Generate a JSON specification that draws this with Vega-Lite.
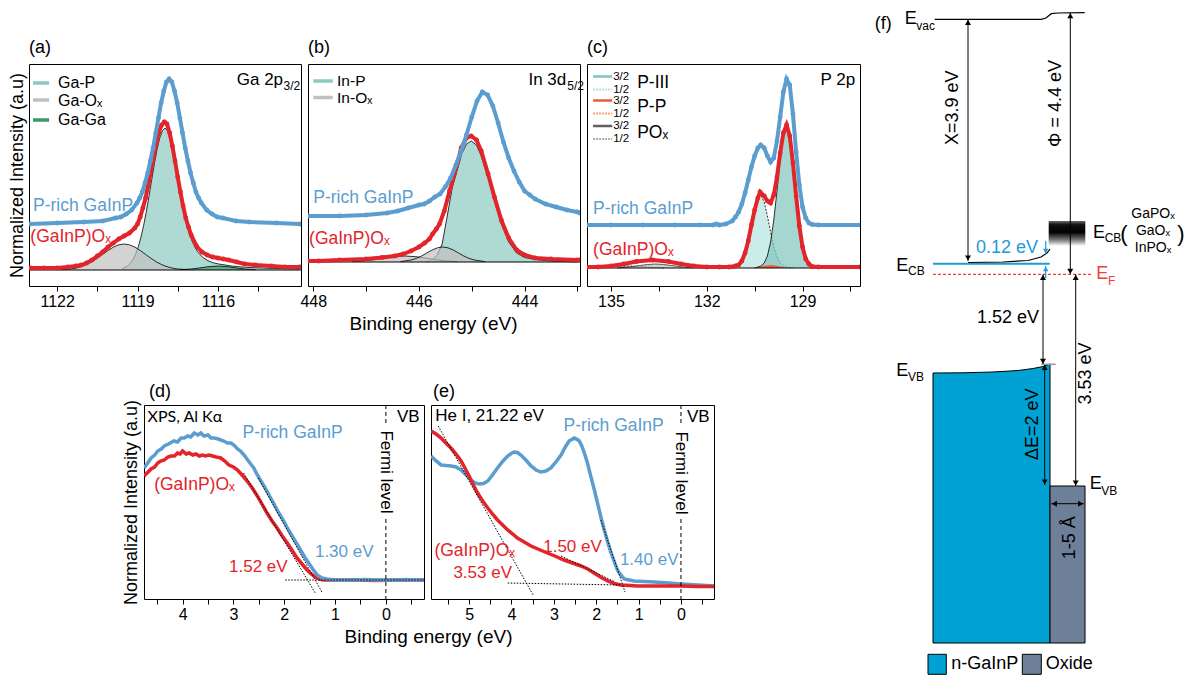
{
"$schema":"https://vega.github.io/schema/vega-lite/v6.json",
"padding":0,
"config":{"font":"Liberation Sans","view":{"stroke":null},
"axis":{"labelFont":"Liberation Sans","titleFont":"Liberation Sans","labelColor":"#000","titleColor":"#000","tickColor":"#000","grid":false,"labelFontSize":16,"titleFontSize":19,"titleFontWeight":"normal","tickSize":5,"labelPadding":2,"labelFlush":false,"labelOverlap":false,"domain":false,"minExtent":0},
"title":{"font":"Liberation Sans","fontSize":18,"fontWeight":"normal","anchor":"start","frame":"group","offset":7,"color":"#000"},
"text":{"font":"Liberation Sans","fontSize":17}},
"bounds":"full","spacing":0,
"hconcat":[
{"bounds":"full","spacing":0,"vconcat":[
{"bounds":"flush","spacing":7,"hconcat":[
{"width":272,"height":222,"title":{"text":"(a)"},"view":{"stroke":"#000"},
"encoding":{"x":{"field":"be","type":"quantitative","scale":{"domain":[1112.9,1123.05],"reverse":true,"nice":false,"zero":false},"axis":{"values":[1122,1120.5,1119,1117.5,1116,1114.5],"format":"d","labelExpr":"datum.value % 3 === 0 ? datum.label : ''","title":null}},
"y":{"field":"y","type":"quantitative","scale":{"domain":[0,2.22],"nice":false,"zero":false},"axis":{"title":"Normalized Intensity (a.u)","labels":false,"ticks":false,"titlePadding":3,"titleFontSize":18}}},
"layer":[
{"data":{"values":[{"be":1124.1,"be2":1112.9,"y":0,"y2":-0.6}]},"mark":{"type":"rect","color":"#fff","opacity":0},"encoding":{"x2":{"field":"be2"},"y2":{"field":"y2"}}},
{"data":{"values":[{"be":1119.57,"y":0.174},{"be":1119.37,"y":0.201},{"be":1119.27,"y":0.227},{"be":1119.17,"y":0.266},{"be":1119.07,"y":0.32},{"be":1118.97,"y":0.394},{"be":1118.87,"y":0.49},{"be":1118.77,"y":0.608},{"be":1118.67,"y":0.747},{"be":1118.57,"y":0.902},{"be":1118.47,"y":1.065},{"be":1118.37,"y":1.224},{"be":1118.27,"y":1.367},{"be":1118.17,"y":1.481},{"be":1118.07,"y":1.554},{"be":1117.97,"y":1.58},{"be":1117.87,"y":1.547},{"be":1117.77,"y":1.456},{"be":1117.67,"y":1.325},{"be":1117.57,"y":1.173},{"be":1117.47,"y":1.018},{"be":1117.37,"y":0.87},{"be":1117.27,"y":0.737},{"be":1117.17,"y":0.623},{"be":1117.07,"y":0.528},{"be":1116.97,"y":0.452},{"be":1116.77,"y":0.346},{"be":1116.57,"y":0.287},{"be":1116.37,"y":0.253},{"be":1116.17,"y":0.232},{"be":1115.97,"y":0.22},{"be":1115.47,"y":0.199},{"be":1114.97,"y":0.187},{"be":1113.97,"y":0.176},{"be":1112.95,"y":0.17}]},"mark":{"type":"area","color":"#8ccac1","line":{"color":"#000","strokeWidth":0.8},"clip":true},"encoding":{"y2":{"datum":0.16}}},
{"data":{"values":[{"be":1121.9,"y":0.163},{"be":1121.5,"y":0.17},{"be":1121.3,"y":0.179},{"be":1121.1,"y":0.193},{"be":1120.9,"y":0.214},{"be":1120.7,"y":0.242},{"be":1120.5,"y":0.277},{"be":1120.3,"y":0.316},{"be":1120.1,"y":0.355},{"be":1119.9,"y":0.389},{"be":1119.7,"y":0.412},{"be":1119.5,"y":0.42},{"be":1119.3,"y":0.412},{"be":1119.1,"y":0.389},{"be":1118.9,"y":0.355},{"be":1118.7,"y":0.316},{"be":1118.5,"y":0.277},{"be":1118.3,"y":0.242},{"be":1118.1,"y":0.214},{"be":1117.9,"y":0.193},{"be":1117.7,"y":0.179},{"be":1117.5,"y":0.17},{"be":1117.1,"y":0.163}]},"mark":{"type":"area","color":"#c0c0c0","line":{"color":"#000","strokeWidth":0.8},"clip":true},"encoding":{"y2":{"datum":0.16}}},
{"data":{"values":[{"be":1117.4,"y":0.163},{"be":1117.0,"y":0.17},{"be":1116.7,"y":0.18},{"be":1116.4,"y":0.192},{"be":1116.0,"y":0.2},{"be":1115.6,"y":0.192},{"be":1115.3,"y":0.18},{"be":1115.0,"y":0.17},{"be":1114.6,"y":0.163}]},"mark":{"type":"area","color":"#3a9a6b","line":{"color":"#000","strokeWidth":0.8},"clip":true},"encoding":{"y2":{"datum":0.16}}},
{"data":{"values":[{"be":1112.9,"y":0.16},{"be":1123.05,"y":0.16}]},"mark":{"type":"line","color":"#000","strokeWidth":1.2}},
{"data":{"name":"ared","values":[{"be":1123.0,"y":0.18},{"be":1122.5,"y":0.18},{"be":1122.0,"y":0.18},{"be":1121.6,"y":0.19},{"be":1121.3,"y":0.2},{"be":1121.1,"y":0.21},{"be":1120.9,"y":0.23},{"be":1120.7,"y":0.26},{"be":1120.5,"y":0.3},{"be":1120.3,"y":0.34},{"be":1120.1,"y":0.39},{"be":1119.9,"y":0.43},{"be":1119.7,"y":0.47},{"be":1119.5,"y":0.5},{"be":1119.3,"y":0.53},{"be":1119.1,"y":0.58},{"be":1119.0,"y":0.62},{"be":1118.9,"y":0.69},{"be":1118.8,"y":0.78},{"be":1118.7,"y":0.88},{"be":1118.6,"y":1.01},{"be":1118.5,"y":1.15},{"be":1118.4,"y":1.3},{"be":1118.3,"y":1.43},{"be":1118.2,"y":1.54},{"be":1118.1,"y":1.61},{"be":1118.0,"y":1.64},{"be":1117.9,"y":1.62},{"be":1117.8,"y":1.53},{"be":1117.7,"y":1.4},{"be":1117.6,"y":1.25},{"be":1117.5,"y":1.09},{"be":1117.4,"y":0.94},{"be":1117.3,"y":0.8},{"be":1117.2,"y":0.68},{"be":1117.1,"y":0.59},{"be":1117.0,"y":0.51},{"be":1116.8,"y":0.4},{"be":1116.6,"y":0.34},{"be":1116.4,"y":0.31},{"be":1116.2,"y":0.29},{"be":1116.0,"y":0.28},{"be":1115.8,"y":0.27},{"be":1115.6,"y":0.26},{"be":1115.3,"y":0.24},{"be":1115.0,"y":0.22},{"be":1114.6,"y":0.21},{"be":1114.0,"y":0.2},{"be":1113.5,"y":0.19},{"be":1112.95,"y":0.19}]},"mark":{"type":"line","color":"#e3242b","strokeWidth":4,"clip":true}},
{"data":{"name":"ared"},"mark":{"type":"circle","color":"#e3242b","size":24,"opacity":1,"clip":true}},
{"data":{"name":"ablue","values":[{"be":1123.0,"y":0.62},{"be":1122.0,"y":0.63},{"be":1121.0,"y":0.64},{"be":1120.3,"y":0.65},{"be":1119.82,"y":0.68},{"be":1119.62,"y":0.69},{"be":1119.42,"y":0.72},{"be":1119.22,"y":0.76},{"be":1119.02,"y":0.83},{"be":1118.92,"y":0.88},{"be":1118.82,"y":0.94},{"be":1118.72,"y":1.03},{"be":1118.62,"y":1.13},{"be":1118.52,"y":1.25},{"be":1118.42,"y":1.38},{"be":1118.32,"y":1.53},{"be":1118.22,"y":1.68},{"be":1118.12,"y":1.83},{"be":1118.02,"y":1.95},{"be":1117.92,"y":2.04},{"be":1117.82,"y":2.07},{"be":1117.72,"y":2.04},{"be":1117.62,"y":1.95},{"be":1117.52,"y":1.83},{"be":1117.42,"y":1.68},{"be":1117.32,"y":1.53},{"be":1117.22,"y":1.38},{"be":1117.12,"y":1.25},{"be":1117.02,"y":1.13},{"be":1116.92,"y":1.03},{"be":1116.82,"y":0.94},{"be":1116.72,"y":0.88},{"be":1116.62,"y":0.83},{"be":1116.42,"y":0.76},{"be":1116.22,"y":0.72},{"be":1116.02,"y":0.69},{"be":1115.82,"y":0.68},{"be":1115.32,"y":0.65},{"be":1114.82,"y":0.64},{"be":1113.82,"y":0.63},{"be":1112.95,"y":0.62}]},"mark":{"type":"line","color":"#5b9dcf","strokeWidth":4,"clip":true}},
{"data":{"name":"ablue"},"mark":{"type":"circle","color":"#5b9dcf","size":24,"opacity":1,"clip":true}},
{"data":{"values":[{"be":1122.9,"be2":1122.3,"y":2.03}]},"mark":{"type":"rule","color":"#8ccac1","strokeWidth":3.5},"encoding":{"x2":{"field":"be2"}}},
{"data":{"values":[{"be":1122.9,"be2":1122.3,"y":1.86}]},"mark":{"type":"rule","color":"#c0c0c0","strokeWidth":3.5},"encoding":{"x2":{"field":"be2"}}},
{"data":{"values":[{"be":1122.9,"be2":1122.3,"y":1.66}]},"mark":{"type":"rule","color":"#3a9a6b","strokeWidth":3.5},"encoding":{"x2":{"field":"be2"}}},
{"data":{"values":[{"be":1121.97,"y":2.03,"t":"Ga-P"},{"be":1121.97,"y":1.855,"t":"Ga-Oₓ"},{"be":1121.97,"y":1.66,"t":"Ga-Ga"}]},"mark":{"type":"text","align":"left","baseline":"middle","fontSize":16,"color":"#000"},"encoding":{"text":{"field":"t"}}},
{"data":{"values":[{"be":1113.57,"y":2.06,"t":"Ga 2p"}]},"mark":{"type":"text","align":"right","baseline":"middle","fontSize":17,"color":"#000"},"encoding":{"text":{"field":"t"}}},
{"data":{"values":[{"be":1113.55,"y":2.0,"t":"3/2"}]},"mark":{"type":"text","align":"left","baseline":"middle","fontSize":12,"color":"#000"},"encoding":{"text":{"field":"t"}}},
{"data":{"values":[{"be":1122.9,"y":0.8,"t":"P-rich GaInP"}]},"mark":{"type":"text","align":"left","baseline":"middle","fontSize":17.5,"color":"#5b9dcf"},"encoding":{"text":{"field":"t"}}},
{"data":{"values":[{"be":1123.0,"y":0.49,"t":"(GaInP)Oₓ"}]},"mark":{"type":"text","align":"left","baseline":"middle","fontSize":17.5,"color":"#e3242b"},"encoding":{"text":{"field":"t"}}}
]},
{"width":272,"height":222,"title":{"text":"(b)"},"view":{"stroke":"#000"},
"encoding":{"x":{"field":"be","type":"quantitative","scale":{"domain":[442.95,448.1],"reverse":true,"nice":false,"zero":false},"axis":{"values":[448,447,446,445,444,443],"format":"d","labelExpr":"datum.value % 2 === 0 ? datum.label : ''","title":"Binding energy (eV)","titleX":125,"titlePadding":5}},
"y":{"field":"y","type":"quantitative","scale":{"domain":[0,2.22],"nice":false,"zero":false},"axis":null}},
"layer":[
{"data":{"values":[{"be":445.85,"y":0.24},{"be":445.75,"y":0.26},{"be":445.65,"y":0.31},{"be":445.56,"y":0.42},{"be":445.47,"y":0.68},{"be":445.37,"y":0.98},{"be":445.28,"y":1.15},{"be":445.19,"y":1.32},{"be":445.1,"y":1.42},{"be":445.01,"y":1.45},{"be":444.91,"y":1.41},{"be":444.82,"y":1.3},{"be":444.69,"y":1.08},{"be":444.57,"y":0.85},{"be":444.44,"y":0.62},{"be":444.3,"y":0.44},{"be":444.15,"y":0.33},{"be":444.0,"y":0.285},{"be":443.8,"y":0.265},{"be":443.5,"y":0.25},{"be":443.0,"y":0.24}]},"mark":{"type":"area","color":"#8ccac1","line":{"color":"#000","strokeWidth":0.8},"clip":true},"encoding":{"y2":{"datum":0.24}}},
{"data":{"values":[{"be":447.27,"y":0.244},{"be":447.07,"y":0.25},{"be":446.87,"y":0.262},{"be":446.67,"y":0.279},{"be":446.47,"y":0.294},{"be":446.27,"y":0.3},{"be":446.07,"y":0.294},{"be":445.87,"y":0.279},{"be":445.67,"y":0.262},{"be":445.47,"y":0.25},{"be":445.27,"y":0.244}]},"mark":{"type":"area","color":"#c0c0c0","line":{"color":"#000","strokeWidth":0.8},"clip":true},"encoding":{"y2":{"datum":0.24}}},
{"data":{"values":[{"be":446.35,"y":0.244},{"be":446.15,"y":0.26},{"be":446.05,"y":0.276},{"be":445.95,"y":0.3},{"be":445.85,"y":0.33},{"be":445.75,"y":0.36},{"be":445.65,"y":0.382},{"be":445.55,"y":0.39},{"be":445.45,"y":0.382},{"be":445.35,"y":0.36},{"be":445.25,"y":0.33},{"be":445.15,"y":0.3},{"be":445.05,"y":0.276},{"be":444.95,"y":0.26},{"be":444.75,"y":0.244}]},"mark":{"type":"area","color":"#c0c0c0","line":{"color":"#000","strokeWidth":0.8},"clip":true},"encoding":{"y2":{"datum":0.24}}},
{"data":{"values":[{"be":442.95,"y":0.24},{"be":448.1,"y":0.24}]},"mark":{"type":"line","color":"#000","strokeWidth":1.2}},
{"data":{"name":"bred","values":[{"be":448.1,"y":0.25},{"be":447.9,"y":0.25},{"be":447.5,"y":0.26},{"be":447.0,"y":0.27},{"be":446.7,"y":0.285},{"be":446.46,"y":0.3},{"be":446.3,"y":0.32},{"be":446.15,"y":0.35},{"be":446.0,"y":0.39},{"be":445.89,"y":0.43},{"be":445.8,"y":0.47},{"be":445.74,"y":0.52},{"be":445.67,"y":0.57},{"be":445.61,"y":0.62},{"be":445.52,"y":0.75},{"be":445.42,"y":0.95},{"be":445.33,"y":1.12},{"be":445.26,"y":1.25},{"be":445.2,"y":1.38},{"be":445.1,"y":1.48},{"be":445.01,"y":1.5},{"be":444.91,"y":1.46},{"be":444.82,"y":1.35},{"be":444.69,"y":1.12},{"be":444.57,"y":0.89},{"be":444.44,"y":0.66},{"be":444.3,"y":0.48},{"be":444.15,"y":0.36},{"be":444.0,"y":0.31},{"be":443.8,"y":0.28},{"be":443.5,"y":0.27},{"be":443.0,"y":0.26},{"be":442.95,"y":0.26}]},"mark":{"type":"line","color":"#e3242b","strokeWidth":4,"clip":true}},
{"data":{"name":"bred"},"mark":{"type":"circle","color":"#e3242b","size":24,"opacity":1,"clip":true}},
{"data":{"name":"bblue","values":[{"be":448.1,"y":0.7},{"be":447.5,"y":0.7},{"be":447.0,"y":0.71},{"be":446.6,"y":0.73},{"be":446.4,"y":0.75},{"be":446.2,"y":0.78},{"be":446.0,"y":0.81},{"be":445.9,"y":0.82},{"be":445.8,"y":0.85},{"be":445.7,"y":0.89},{"be":445.6,"y":0.92},{"be":445.5,"y":0.99},{"be":445.4,"y":1.08},{"be":445.3,"y":1.21},{"be":445.2,"y":1.35},{"be":445.1,"y":1.51},{"be":445.0,"y":1.69},{"be":444.9,"y":1.85},{"be":444.8,"y":1.94},{"be":444.7,"y":1.91},{"be":444.6,"y":1.8},{"be":444.5,"y":1.63},{"be":444.4,"y":1.44},{"be":444.3,"y":1.28},{"be":444.2,"y":1.15},{"be":444.1,"y":1.04},{"be":444.0,"y":0.95},{"be":443.9,"y":0.91},{"be":443.8,"y":0.87},{"be":443.6,"y":0.82},{"be":443.4,"y":0.79},{"be":443.2,"y":0.76},{"be":443.0,"y":0.74},{"be":442.95,"y":0.73}]},"mark":{"type":"line","color":"#5b9dcf","strokeWidth":4,"clip":true}},
{"data":{"name":"bblue"},"mark":{"type":"circle","color":"#5b9dcf","size":24,"opacity":1,"clip":true}},
{"data":{"values":[{"be":448.0,"be2":447.63,"y":2.05}]},"mark":{"type":"rule","color":"#8ccac1","strokeWidth":3.5},"encoding":{"x2":{"field":"be2"}}},
{"data":{"values":[{"be":448.0,"be2":447.63,"y":1.885}]},"mark":{"type":"rule","color":"#c0c0c0","strokeWidth":3.5},"encoding":{"x2":{"field":"be2"}}},
{"data":{"values":[{"be":447.55,"y":2.05,"t":"In-P"},{"be":447.55,"y":1.885,"t":"In-Oₓ"}]},"mark":{"type":"text","align":"left","baseline":"middle","fontSize":15.5,"color":"#000"},"encoding":{"text":{"field":"t"}}},
{"data":{"values":[{"be":443.21,"y":2.06,"t":"In 3d"}]},"mark":{"type":"text","align":"right","baseline":"middle","fontSize":17,"color":"#000"},"encoding":{"text":{"field":"t"}}},
{"data":{"values":[{"be":443.19,"y":2.0,"t":"5/2"}]},"mark":{"type":"text","align":"left","baseline":"middle","fontSize":12,"color":"#000"},"encoding":{"text":{"field":"t"}}},
{"data":{"values":[{"be":448.0,"y":0.88,"t":"P-rich GaInP"}]},"mark":{"type":"text","align":"left","baseline":"middle","fontSize":17.5,"color":"#5b9dcf"},"encoding":{"text":{"field":"t"}}},
{"data":{"values":[{"be":448.08,"y":0.47,"t":"(GaInP)Oₓ"}]},"mark":{"type":"text","align":"left","baseline":"middle","fontSize":17.5,"color":"#e3242b"},"encoding":{"text":{"field":"t"}}}
]},
{"width":273,"height":222,"title":{"text":"(c)"},"view":{"stroke":"#000"},
"encoding":{"x":{"field":"be","type":"quantitative","scale":{"domain":[127.2,135.75],"reverse":true,"nice":false,"zero":false},"axis":{"values":[135,133.5,132,130.5,129,127.5],"format":"d","labelExpr":"datum.value % 3 === 0 ? datum.label : ''","title":null}},
"y":{"field":"y","type":"quantitative","scale":{"domain":[0,2.22],"nice":false,"zero":false},"axis":null}},
"layer":[
{"data":{"values":[{"be":131.2,"y":0.18},{"be":131.0,"y":0.21},{"be":130.9,"y":0.25},{"be":130.8,"y":0.33},{"be":130.7,"y":0.46},{"be":130.6,"y":0.62},{"be":130.5,"y":0.78},{"be":130.4,"y":0.89},{"be":130.33,"y":0.92},{"be":130.2,"y":0.84},{"be":130.1,"y":0.7},{"be":130.0,"y":0.54},{"be":129.9,"y":0.39},{"be":129.8,"y":0.29},{"be":129.7,"y":0.23},{"be":129.6,"y":0.2},{"be":129.5,"y":0.19},{"be":129.3,"y":0.18}]},"mark":{"type":"area","color":"#b3e6df","line":{"color":"#000","strokeWidth":0.8,"strokeDash":[2,1.5]},"clip":true},"encoding":{"y2":{"datum":0.18}}},
{"data":{"values":[{"be":130.5,"y":0.18},{"be":130.3,"y":0.2},{"be":130.2,"y":0.23},{"be":130.1,"y":0.3},{"be":130.0,"y":0.44},{"be":129.9,"y":0.66},{"be":129.8,"y":0.95},{"be":129.7,"y":1.26},{"be":129.6,"y":1.51},{"be":129.5,"y":1.6},{"be":129.4,"y":1.5},{"be":129.3,"y":1.22},{"be":129.2,"y":0.89},{"be":129.1,"y":0.6},{"be":129.0,"y":0.39},{"be":128.9,"y":0.27},{"be":128.8,"y":0.21},{"be":128.7,"y":0.19},{"be":128.5,"y":0.18}]},"mark":{"type":"area","color":"#7fc4ba","line":{"color":"#000","strokeWidth":0.8},"clip":true},"encoding":{"y2":{"datum":0.18}}},
{"data":{"values":[{"be":130.5,"y":0.18},{"be":130.3,"y":0.195},{"be":130.15,"y":0.206},{"be":130.0,"y":0.21},{"be":129.85,"y":0.206},{"be":129.7,"y":0.195},{"be":129.5,"y":0.18}]},"mark":{"type":"area","color":"#f05a3c","clip":true},"encoding":{"y2":{"datum":0.18}}},
{"data":{"values":[{"be":135.6,"y":0.18},{"be":135.2,"y":0.187},{"be":134.9,"y":0.194},{"be":134.45,"y":0.2},{"be":134.0,"y":0.194},{"be":133.7,"y":0.187},{"be":133.3,"y":0.18}]},"mark":{"type":"area","color":"#d3d3d3","line":{"color":"#000","strokeWidth":0.8,"strokeDash":[2,1.5]},"clip":true},"encoding":{"y2":{"datum":0.18}}},
{"data":{"values":[{"be":134.8,"y":0.18},{"be":134.4,"y":0.192},{"be":134.1,"y":0.205},{"be":133.85,"y":0.215},{"be":133.6,"y":0.22},{"be":133.35,"y":0.215},{"be":133.1,"y":0.205},{"be":132.8,"y":0.192},{"be":132.4,"y":0.18}]},"mark":{"type":"area","color":"#bdbdbd","line":{"color":"#333","strokeWidth":0.8},"clip":true},"encoding":{"y2":{"datum":0.18}}},
{"data":{"values":[{"be":127.2,"y":0.18},{"be":135.75,"y":0.18}]},"mark":{"type":"line","color":"#000","strokeWidth":1.2}},
{"data":{"name":"cred","values":[{"be":135.75,"y":0.19},{"be":135.4,"y":0.19},{"be":135.0,"y":0.2},{"be":134.6,"y":0.22},{"be":134.2,"y":0.245},{"be":133.7,"y":0.26},{"be":133.2,"y":0.245},{"be":132.8,"y":0.22},{"be":132.4,"y":0.2},{"be":132.0,"y":0.19},{"be":131.6,"y":0.19},{"be":131.3,"y":0.19},{"be":131.1,"y":0.2},{"be":131.0,"y":0.21},{"be":130.9,"y":0.25},{"be":130.8,"y":0.33},{"be":130.7,"y":0.45},{"be":130.6,"y":0.61},{"be":130.5,"y":0.76},{"be":130.4,"y":0.88},{"be":130.33,"y":0.94},{"be":130.2,"y":0.9},{"be":130.1,"y":0.85},{"be":130.0,"y":0.83},{"be":129.9,"y":0.91},{"be":129.8,"y":1.09},{"be":129.7,"y":1.33},{"be":129.6,"y":1.53},{"be":129.5,"y":1.61},{"be":129.4,"y":1.5},{"be":129.3,"y":1.23},{"be":129.2,"y":0.9},{"be":129.1,"y":0.6},{"be":129.0,"y":0.39},{"be":128.9,"y":0.27},{"be":128.8,"y":0.22},{"be":128.7,"y":0.195},{"be":128.5,"y":0.19},{"be":127.2,"y":0.19}]},"mark":{"type":"line","color":"#e3242b","strokeWidth":4,"clip":true}},
{"data":{"name":"cred"},"mark":{"type":"circle","color":"#e3242b","size":24,"opacity":1,"clip":true}},
{"data":{"name":"cblue","values":[{"be":135.75,"y":0.61},{"be":135.0,"y":0.61},{"be":134.0,"y":0.61},{"be":133.0,"y":0.61},{"be":132.2,"y":0.61},{"be":131.8,"y":0.61},{"be":131.7,"y":0.62},{"be":131.6,"y":0.61},{"be":131.4,"y":0.62},{"be":131.2,"y":0.65},{"be":131.1,"y":0.69},{"be":131.0,"y":0.74},{"be":130.9,"y":0.82},{"be":130.8,"y":0.93},{"be":130.7,"y":1.06},{"be":130.6,"y":1.19},{"be":130.5,"y":1.3},{"be":130.4,"y":1.38},{"be":130.31,"y":1.41},{"be":130.2,"y":1.38},{"be":130.1,"y":1.3},{"be":130.0,"y":1.24},{"be":129.9,"y":1.28},{"be":129.8,"y":1.45},{"be":129.7,"y":1.69},{"be":129.6,"y":1.94},{"be":129.5,"y":2.07},{"be":129.4,"y":2.01},{"be":129.3,"y":1.72},{"be":129.2,"y":1.34},{"be":129.1,"y":1.01},{"be":129.0,"y":0.79},{"be":128.9,"y":0.68},{"be":128.8,"y":0.63},{"be":128.7,"y":0.615},{"be":128.5,"y":0.61},{"be":127.2,"y":0.61}]},"mark":{"type":"line","color":"#5b9dcf","strokeWidth":4,"clip":true}},
{"data":{"name":"cblue"},"mark":{"type":"circle","color":"#5b9dcf","size":24,"opacity":1,"clip":true}},
{"data":{"values":[{"be":135.56,"be2":134.96,"y":2.095}]},"mark":{"type":"rule","color":"#7fc4ba","strokeWidth":2.5},"encoding":{"x2":{"field":"be2"}}},
{"data":{"values":[{"be":135.56,"be2":134.96,"y":1.965}]},"mark":{"type":"rule","color":"#b3e6df","strokeWidth":2,"strokeDash":[2,1]},"encoding":{"x2":{"field":"be2"}}},
{"data":{"values":[{"be":135.56,"be2":134.96,"y":1.855}]},"mark":{"type":"rule","color":"#f05a3c","strokeWidth":2.5},"encoding":{"x2":{"field":"be2"}}},
{"data":{"values":[{"be":135.56,"be2":134.96,"y":1.725}]},"mark":{"type":"rule","color":"#f7a57a","strokeWidth":2,"strokeDash":[2,1]},"encoding":{"x2":{"field":"be2"}}},
{"data":{"values":[{"be":135.56,"be2":134.96,"y":1.6}]},"mark":{"type":"rule","color":"#606060","strokeWidth":2.5},"encoding":{"x2":{"field":"be2"}}},
{"data":{"values":[{"be":135.56,"be2":134.96,"y":1.47}]},"mark":{"type":"rule","color":"#b0b0b0","strokeWidth":2,"strokeDash":[2,1]},"encoding":{"x2":{"field":"be2"}}},
{"data":{"values":[{"be":134.93,"y":2.095,"t":"3/2"},{"be":134.93,"y":1.965,"t":"1/2"},{"be":134.93,"y":1.855,"t":"3/2"},{"be":134.93,"y":1.725,"t":"1/2"},{"be":134.93,"y":1.6,"t":"3/2"},{"be":134.93,"y":1.47,"t":"1/2"}]},"mark":{"type":"text","align":"left","baseline":"middle","fontSize":11.5,"color":"#000"},"encoding":{"text":{"field":"t"}}},
{"data":{"values":[{"be":134.18,"y":2.03,"t":"P-III"},{"be":134.18,"y":1.79,"t":"P-P"},{"be":134.18,"y":1.535,"t":"POₓ"}]},"mark":{"type":"text","align":"left","baseline":"middle","fontSize":17.5,"color":"#000"},"encoding":{"text":{"field":"t"}}},
{"data":{"values":[{"be":127.35,"y":2.06,"t":"P 2p"}]},"mark":{"type":"text","align":"right","baseline":"middle","fontSize":17,"color":"#000"},"encoding":{"text":{"field":"t"}}},
{"data":{"values":[{"be":135.56,"y":0.77,"t":"P-rich GaInP"}]},"mark":{"type":"text","align":"left","baseline":"middle","fontSize":17.5,"color":"#5b9dcf"},"encoding":{"text":{"field":"t"}}},
{"data":{"values":[{"be":135.56,"y":0.36,"t":"(GaInP)Oₓ"}]},"mark":{"type":"text","align":"left","baseline":"middle","fontSize":17.5,"color":"#e3242b"},"encoding":{"text":{"field":"t"}}}
]}
]},
{"bounds":"flush","spacing":7,"hconcat":[
{"width":108,"height":194,"data":{"values":[{}]},"mark":{"type":"point","opacity":0},"encoding":{}},
{"width":280,"height":194,"view":{"stroke":"#000"},
"encoding":{"x":{"field":"be","type":"quantitative","scale":{"domain":[-0.75,4.76],"reverse":true,"nice":false,"zero":false},"axis":{"values":[4.5,4,3.5,3,2.5,2,1.5,1,0.5,0,-0.5],"labelExpr":"datum.value % 1 === 0 ? '' + datum.value : ''","title":"Binding energy (eV)","titleX":284,"titlePadding":5}},
"y":{"field":"y","type":"quantitative","scale":{"domain":[0,1.94],"nice":false,"zero":false},"axis":{"title":"Normalized Intensity (a.u)","labels":false,"ticks":false,"titlePadding":4,"titleFontSize":18}}},
"layer":[
{"data":{"values":[{"be":4.76,"be2":-0.75,"y":2.51,"y2":0}]},"mark":{"type":"rect","color":"#fff","opacity":0},"encoding":{"x2":{"field":"be2"},"y2":{"field":"y2"}}},
{"data":{"values":[{"be":4.66,"y":2.07,"t":"(d)"}]},"mark":{"type":"text","align":"left","baseline":"middle","fontSize":18,"color":"#000"},"encoding":{"text":{"field":"t"}}},
{"data":{"values":[{"be":4.76,"y":1.23},{"be":4.7,"y":1.26},{"be":4.62,"y":1.3},{"be":4.55,"y":1.32},{"be":4.49,"y":1.36},{"be":4.43,"y":1.38},{"be":4.36,"y":1.39},{"be":4.29,"y":1.42},{"be":4.23,"y":1.43},{"be":4.16,"y":1.43},{"be":4.1,"y":1.46},{"be":4.05,"y":1.45},{"be":4.0,"y":1.48},{"be":3.93,"y":1.45},{"be":3.87,"y":1.46},{"be":3.8,"y":1.44},{"be":3.74,"y":1.45},{"be":3.67,"y":1.43},{"be":3.61,"y":1.44},{"be":3.55,"y":1.43},{"be":3.48,"y":1.44},{"be":3.41,"y":1.43},{"be":3.34,"y":1.42},{"be":3.25,"y":1.41},{"be":3.17,"y":1.38},{"be":3.09,"y":1.34},{"be":3.0,"y":1.32},{"be":2.92,"y":1.29},{"be":2.83,"y":1.24},{"be":2.73,"y":1.18},{"be":2.63,"y":1.11},{"be":2.53,"y":1.03},{"be":2.44,"y":0.95},{"be":2.34,"y":0.86},{"be":2.24,"y":0.78},{"be":2.14,"y":0.71},{"be":2.04,"y":0.63},{"be":1.94,"y":0.56},{"be":1.85,"y":0.49},{"be":1.75,"y":0.41},{"be":1.65,"y":0.35},{"be":1.55,"y":0.29},{"be":1.47,"y":0.25},{"be":1.39,"y":0.22},{"be":1.31,"y":0.2},{"be":1.23,"y":0.19},{"be":1.0,"y":0.19},{"be":0.6,"y":0.19},{"be":0.2,"y":0.185},{"be":-0.2,"y":0.19},{"be":-0.75,"y":0.19}]},"mark":{"type":"line","color":"#e3242b","strokeWidth":3.5,"clip":true}},
{"data":{"values":[{"be":4.76,"y":1.31},{"be":4.7,"y":1.35},{"be":4.62,"y":1.41},{"be":4.55,"y":1.44},{"be":4.49,"y":1.48},{"be":4.42,"y":1.5},{"be":4.36,"y":1.53},{"be":4.28,"y":1.55},{"be":4.17,"y":1.58},{"be":4.1,"y":1.57},{"be":4.03,"y":1.61},{"be":3.97,"y":1.61},{"be":3.9,"y":1.63},{"be":3.84,"y":1.62},{"be":3.77,"y":1.66},{"be":3.7,"y":1.64},{"be":3.64,"y":1.66},{"be":3.58,"y":1.63},{"be":3.5,"y":1.64},{"be":3.44,"y":1.61},{"be":3.38,"y":1.61},{"be":3.3,"y":1.6},{"be":3.25,"y":1.59},{"be":3.19,"y":1.58},{"be":3.12,"y":1.56},{"be":3.05,"y":1.56},{"be":2.99,"y":1.54},{"be":2.92,"y":1.5},{"be":2.86,"y":1.48},{"be":2.79,"y":1.44},{"be":2.72,"y":1.39},{"be":2.66,"y":1.35},{"be":2.6,"y":1.31},{"be":2.53,"y":1.24},{"be":2.47,"y":1.19},{"be":2.4,"y":1.13},{"be":2.33,"y":1.07},{"be":2.27,"y":1.01},{"be":2.2,"y":0.95},{"be":2.13,"y":0.88},{"be":2.07,"y":0.83},{"be":2.0,"y":0.77},{"be":1.94,"y":0.71},{"be":1.88,"y":0.66},{"be":1.81,"y":0.6},{"be":1.75,"y":0.55},{"be":1.68,"y":0.49},{"be":1.6,"y":0.42},{"be":1.52,"y":0.36},{"be":1.44,"y":0.3},{"be":1.35,"y":0.24},{"be":1.26,"y":0.21},{"be":1.16,"y":0.2},{"be":1.0,"y":0.19},{"be":0.8,"y":0.19},{"be":0.6,"y":0.19},{"be":0.4,"y":0.195},{"be":0.2,"y":0.19},{"be":0.0,"y":0.19},{"be":-0.2,"y":0.19},{"be":-0.4,"y":0.195},{"be":-0.6,"y":0.19},{"be":-0.75,"y":0.19}]},"mark":{"type":"line","color":"#5b9dcf","strokeWidth":3.5,"clip":true}},
{"data":{"values":[{"be":2.51,"y":1.21,"s":"b"},{"be":1.25,"y":0.06,"s":"b"},{"be":2.8,"y":1.26,"s":"r"},{"be":1.39,"y":0.06,"s":"r"},{"be":1.98,"y":0.19,"s":"z"},{"be":-0.75,"y":0.19,"s":"z"}]},"mark":{"type":"line","color":"#000","strokeWidth":1,"strokeDash":[1.5,1.5],"clip":true},"encoding":{"detail":{"field":"s"}}},
{"data":{"values":[{"be":0,"y":1.94,"y2":1.75},{"be":0,"y":0.8,"y2":0}]},"mark":{"type":"rule","color":"#000","strokeWidth":1,"strokeDash":[4,3]},"encoding":{"y2":{"field":"y2"}}},
{"data":{"values":[{"be":0,"y":1.27,"t":"Fermi level"}]},"mark":{"type":"text","align":"center","baseline":"middle","fontSize":17,"angle":90,"color":"#000"},"encoding":{"text":{"field":"t"}}},
{"data":{"values":[{"be":4.69,"y":1.82,"t":"XPS, Al Kα"}]},"mark":{"type":"text","align":"left","baseline":"middle","fontSize":16,"font":"Lato","color":"#000"},"encoding":{"text":{"field":"t"}}},
{"data":{"values":[{"be":-0.44,"y":1.82,"t":"VB"}]},"mark":{"type":"text","align":"center","baseline":"middle","fontSize":17,"color":"#000"},"encoding":{"text":{"field":"t"}}},
{"data":{"values":[{"be":2.82,"y":1.66,"t":"P-rich GaInP"}]},"mark":{"type":"text","align":"left","baseline":"middle","fontSize":17.5,"color":"#5b9dcf"},"encoding":{"text":{"field":"t"}}},
{"data":{"values":[{"be":0.82,"y":0.47,"t":"1.30 eV"}]},"mark":{"type":"text","align":"center","baseline":"middle","fontSize":17,"color":"#5b9dcf"},"encoding":{"text":{"field":"t"}}},
{"data":{"values":[{"be":4.56,"y":1.14,"t":"(GaInP)Oₓ"}]},"mark":{"type":"text","align":"left","baseline":"middle","fontSize":17.5,"color":"#e3242b"},"encoding":{"text":{"field":"t"}}},
{"data":{"values":[{"be":2.51,"y":0.32,"t":"1.52 eV"}]},"mark":{"type":"text","align":"center","baseline":"middle","fontSize":17,"color":"#e3242b"},"encoding":{"text":{"field":"t"}}}
]},
{"width":283,"height":194,"view":{"stroke":"#000"},
"encoding":{"x":{"field":"be","type":"quantitative","scale":{"domain":[-0.78,5.9],"reverse":true,"nice":false,"zero":false},"axis":{"values":[5.5,5,4.5,4,3.5,3,2.5,2,1.5,1,0.5,0,-0.5],"labelExpr":"datum.value % 1 === 0 ? '' + datum.value : ''","title":null}},
"y":{"field":"y","type":"quantitative","scale":{"domain":[0,1.94],"nice":false,"zero":false},"axis":null}},
"layer":[
{"data":{"values":[{"be":5.85,"y":2.07,"t":"(e)"}]},"mark":{"type":"text","align":"left","baseline":"middle","fontSize":18,"color":"#000"},"encoding":{"text":{"field":"t"}}},
{"data":{"values":[{"be":5.9,"y":1.43},{"be":5.78,"y":1.38},{"be":5.66,"y":1.34},{"be":5.55,"y":1.335},{"be":5.43,"y":1.33},{"be":5.31,"y":1.32},{"be":5.19,"y":1.29},{"be":5.07,"y":1.24},{"be":4.96,"y":1.19},{"be":4.86,"y":1.16},{"be":4.76,"y":1.15},{"be":4.66,"y":1.155},{"be":4.56,"y":1.18},{"be":4.45,"y":1.24},{"be":4.33,"y":1.31},{"be":4.21,"y":1.375},{"be":4.09,"y":1.43},{"be":3.99,"y":1.46},{"be":3.94,"y":1.47},{"be":3.86,"y":1.465},{"be":3.78,"y":1.44},{"be":3.66,"y":1.39},{"be":3.54,"y":1.33},{"be":3.42,"y":1.29},{"be":3.31,"y":1.27},{"be":3.19,"y":1.28},{"be":3.07,"y":1.31},{"be":2.95,"y":1.37},{"be":2.83,"y":1.44},{"be":2.73,"y":1.52},{"be":2.64,"y":1.58},{"be":2.52,"y":1.61},{"be":2.46,"y":1.6},{"be":2.4,"y":1.58},{"be":2.34,"y":1.53},{"be":2.28,"y":1.46},{"be":2.2,"y":1.35},{"be":2.13,"y":1.23},{"be":2.05,"y":1.1},{"be":1.97,"y":0.96},{"be":1.89,"y":0.82},{"be":1.81,"y":0.69},{"be":1.73,"y":0.57},{"be":1.65,"y":0.46},{"be":1.57,"y":0.37},{"be":1.5,"y":0.29},{"be":1.42,"y":0.24},{"be":1.34,"y":0.2},{"be":1.22,"y":0.19},{"be":1.11,"y":0.18},{"be":0.87,"y":0.175},{"be":0.63,"y":0.17},{"be":0.3,"y":0.16},{"be":0.0,"y":0.15},{"be":-0.4,"y":0.14},{"be":-0.78,"y":0.13}]},"mark":{"type":"line","color":"#5b9dcf","strokeWidth":3.5,"clip":true}},
{"data":{"values":[{"be":5.9,"y":1.68},{"be":5.78,"y":1.65},{"be":5.66,"y":1.61},{"be":5.55,"y":1.56},{"be":5.43,"y":1.51},{"be":5.31,"y":1.45},{"be":5.19,"y":1.38},{"be":5.1,"y":1.31},{"be":5.0,"y":1.23},{"be":4.9,"y":1.14},{"be":4.8,"y":1.06},{"be":4.68,"y":0.98},{"be":4.56,"y":0.91},{"be":4.45,"y":0.85},{"be":4.33,"y":0.79},{"be":4.21,"y":0.74},{"be":4.09,"y":0.69},{"be":3.97,"y":0.65},{"be":3.86,"y":0.61},{"be":3.7,"y":0.57},{"be":3.54,"y":0.53},{"be":3.35,"y":0.495},{"be":3.15,"y":0.46},{"be":2.95,"y":0.425},{"be":2.76,"y":0.39},{"be":2.56,"y":0.36},{"be":2.36,"y":0.33},{"be":2.2,"y":0.3},{"be":2.05,"y":0.26},{"be":1.9,"y":0.22},{"be":1.73,"y":0.18},{"be":1.58,"y":0.155},{"be":1.42,"y":0.14},{"be":1.2,"y":0.135},{"be":1.03,"y":0.13},{"be":0.6,"y":0.13},{"be":0.0,"y":0.13},{"be":-0.4,"y":0.125},{"be":-0.78,"y":0.125}]},"mark":{"type":"line","color":"#e3242b","strokeWidth":3.5,"clip":true}},
{"data":{"values":[{"be":5.73,"y":1.73,"s":"r1"},{"be":3.49,"y":0.04,"s":"r1"},{"be":4.09,"y":0.16,"s":"z"},{"be":1.42,"y":0.14,"s":"z"},{"be":2.83,"y":0.43,"s":"r2"},{"be":1.55,"y":0.17,"s":"r2"},{"be":1.89,"y":0.79,"s":"b"},{"be":1.32,"y":0.07,"s":"b"}]},"mark":{"type":"line","color":"#000","strokeWidth":1,"strokeDash":[1.5,1.5],"clip":true},"encoding":{"detail":{"field":"s"}}},
{"data":{"values":[{"be":0,"y":1.94,"y2":1.75},{"be":0,"y":0.8,"y2":0}]},"mark":{"type":"rule","color":"#000","strokeWidth":1,"strokeDash":[4,3]},"encoding":{"y2":{"field":"y2"}}},
{"data":{"values":[{"be":0,"y":1.26,"t":"Fermi level"}]},"mark":{"type":"text","align":"center","baseline":"middle","fontSize":17,"angle":90,"color":"#000"},"encoding":{"text":{"field":"t"}}},
{"data":{"values":[{"be":5.8,"y":1.83,"t":"He I, 21.22 eV"}]},"mark":{"type":"text","align":"left","baseline":"middle","fontSize":17,"color":"#000"},"encoding":{"text":{"field":"t"}}},
{"data":{"values":[{"be":-0.41,"y":1.82,"t":"VB"}]},"mark":{"type":"text","align":"center","baseline":"middle","fontSize":17,"color":"#000"},"encoding":{"text":{"field":"t"}}},
{"data":{"values":[{"be":2.77,"y":1.73,"t":"P-rich GaInP"}]},"mark":{"type":"text","align":"left","baseline":"middle","fontSize":17.5,"color":"#5b9dcf"},"encoding":{"text":{"field":"t"}}},
{"data":{"values":[{"be":0.75,"y":0.39,"t":"1.40 eV"}]},"mark":{"type":"text","align":"center","baseline":"middle","fontSize":17,"color":"#5b9dcf"},"encoding":{"text":{"field":"t"}}},
{"data":{"values":[{"be":5.82,"y":0.48,"t":"(GaInP)Oₓ"}]},"mark":{"type":"text","align":"left","baseline":"middle","fontSize":17.5,"color":"#e3242b"},"encoding":{"text":{"field":"t"}}},
{"data":{"values":[{"be":4.68,"y":0.26,"t":"3.53 eV"},{"be":2.56,"y":0.52,"t":"1.50 eV"}]},"mark":{"type":"text","align":"center","baseline":"middle","fontSize":17,"color":"#e3242b"},"encoding":{"text":{"field":"t"}}}
]}
]}
]},
{"width":326,"height":614,
"encoding":{"x":{"field":"x","type":"quantitative","scale":{"domain":[0,32.6],"nice":false,"zero":false},"axis":null},"y":{"field":"y","type":"quantitative","scale":{"domain":[0,61.4],"nice":false,"zero":false},"axis":null}},
"layer":[
{"data":{"values":[{"x":0,"x2":32.6,"y":0,"y2":67.7}]},"mark":{"type":"rect","color":"#fff","opacity":0},"encoding":{"x2":{"field":"x2"},"y2":{"field":"y2"}}},
{"data":{"values":[{"x":7.0,"y":30.5},{"x":10,"y":30.52},{"x":13,"y":30.6},{"x":15.5,"y":30.75},{"x":17,"y":30.95},{"x":18,"y":31.15},{"x":18.7,"y":31.4}]},"mark":{"type":"area","color":"#00a1d3","stroke":"#000","strokeWidth":1},"encoding":{"y2":{"datum":3.5}}},
{"data":{"values":[{"x":18.7,"x2":22.2,"y":19.2,"y2":3.5}]},"mark":{"type":"rect","color":"#6e7f99","stroke":"#000","strokeWidth":1},"encoding":{"x2":{"field":"x2"},"y2":{"field":"y2"}}},
{"data":{"values":[{"x":18.57,"x2":22.23,"y":45.7,"y2":43.2}]},"mark":{"type":"rect","fill":{"gradient":"linear","x1":0,"y1":0,"x2":0,"y2":1,"stops":[{"offset":0,"color":"#6a6a6a"},{"offset":0.15,"color":"#111111"},{"offset":0.45,"color":"#000000"},{"offset":0.75,"color":"#777777"},{"offset":1,"color":"#ffffff"}]}},"encoding":{"x2":{"field":"x2"},"y2":{"field":"y2"}}},
{"data":{"values":[{"x":7.17,"y":65.87},{"x":17.83,"y":65.87},{"x":18.3,"y":66.0},{"x":18.6,"y":66.25},{"x":18.83,"y":66.43},{"x":19.5,"y":66.5},{"x":22.17,"y":66.53}]},"mark":{"type":"line","color":"#000","strokeWidth":1.2}},
{"data":{"values":[{"x":7.0,"y":41.43},{"x":18.67,"y":41.43}]},"mark":{"type":"line","color":"#1b9bd8","strokeWidth":2}},
{"data":{"values":[{"x":10.5,"y":41.55},{"x":14.0,"y":41.6},{"x":16.5,"y":41.75},{"x":17.8,"y":42.1},{"x":18.4,"y":42.5},{"x":18.7,"y":42.9}]},"mark":{"type":"line","color":"#000","strokeWidth":1.2}},
{"data":{"values":[{"x":7.0,"y":40.37},{"x":22.83,"y":40.37}]},"mark":{"type":"line","color":"#ef4136","strokeWidth":1.2,"strokeDash":[3,2]}},
{"data":{"values":[{"x":10.5,"y":41.7,"y2":65.87},{"x":20.73,"y":40.37,"y2":66.53},{"x":18.0,"y":31.37,"y2":40.37},{"x":21.27,"y":19.2,"y2":40.37},{"x":18.17,"y":19.3,"y2":31.37}]},"mark":{"type":"rule","color":"#000","strokeWidth":1},"encoding":{"y2":{"field":"y2"}}},
{"data":{"values":[{"x":18.83,"x2":22.07,"y":17.43}]},"mark":{"type":"rule","color":"#000","strokeWidth":1},"encoding":{"x2":{"field":"x2"}}},
{"data":{"values":[{"x":17.83,"x2":19.27,"y":31.37}]},"mark":{"type":"rule","color":"#999","strokeWidth":1.5},"encoding":{"x2":{"field":"x2"}}},
{"data":{"values":[{"x":10.5,"y":65.57},{"x":20.73,"y":66.23},{"x":18.0,"y":40.07},{"x":21.27,"y":40.07},{"x":18.17,"y":31.07}]},"mark":{"type":"point","shape":"triangle-up","size":36,"filled":true,"color":"#000","opacity":1}},
{"data":{"values":[{"x":10.5,"y":42.0},{"x":20.73,"y":40.67},{"x":18.0,"y":31.67},{"x":21.27,"y":19.5},{"x":18.17,"y":19.6}]},"mark":{"type":"point","shape":"triangle-down","size":36,"filled":true,"color":"#000","opacity":1}},
{"data":{"values":[{"x":19.13,"y":17.43}]},"mark":{"type":"point","shape":"triangle-left","size":36,"filled":true,"color":"#000","opacity":1}},
{"data":{"values":[{"x":21.77,"y":17.43}]},"mark":{"type":"point","shape":"triangle-right","size":36,"filled":true,"color":"#000","opacity":1}},
{"data":{"values":[{"x":18.27,"y":42.4,"y2":43.7},{"x":18.27,"y":40.0,"y2":41.2}]},"mark":{"type":"rule","color":"#1b9bd8","strokeWidth":1.2},"encoding":{"y2":{"field":"y2"}}},
{"data":{"values":[{"x":18.27,"y":42.7}]},"mark":{"type":"point","shape":"triangle-down","size":28,"filled":true,"color":"#1b9bd8","opacity":1}},
{"data":{"values":[{"x":18.27,"y":40.9}]},"mark":{"type":"point","shape":"triangle-up","size":28,"filled":true,"color":"#1b9bd8","opacity":1}},
{"data":{"values":[{"x":6.5,"x2":8.33,"y":2.37,"y2":0.37}]},"mark":{"type":"rect","color":"#00a1d3","stroke":"#000","strokeWidth":1},"encoding":{"x2":{"field":"x2"},"y2":{"field":"y2"}}},
{"data":{"values":[{"x":15.93,"x2":17.83,"y":2.37,"y2":0.37}]},"mark":{"type":"rect","color":"#6e7f99","stroke":"#000","strokeWidth":1},"encoding":{"x2":{"field":"x2"},"y2":{"field":"y2"}}},
{"data":{"values":[{"x":1.17,"y":65.37,"t":"(f)"},{"x":4.17,"y":65.87,"t":"E"},{"x":3.33,"y":41.2,"t":"E"},{"x":3.33,"y":30.7,"t":"E"},{"x":22.67,"y":19.37,"t":"E"},{"x":23.0,"y":44.53,"t":"E"},{"x":8.83,"y":1.37,"t":"n-GaInP"},{"x":18.27,"y":1.37,"t":"Oxide"}]},"mark":{"type":"text","align":"left","baseline":"middle","fontSize":18,"color":"#000"},"encoding":{"text":{"field":"t"}}},
{"data":{"values":[{"x":14.5,"y":36.03,"t":"1.52 eV"}]},"mark":{"type":"text","align":"center","baseline":"middle","fontSize":18,"color":"#000"},"encoding":{"text":{"field":"t"}}},
{"data":{"values":[{"x":5.33,"y":65.2,"t":"vac"},{"x":4.5,"y":40.7,"t":"CB"},{"x":4.5,"y":30.1,"t":"VB"},{"x":23.83,"y":18.7,"t":"VB"},{"x":24.17,"y":43.97,"t":"CB"}]},"mark":{"type":"text","align":"left","baseline":"middle","fontSize":12,"color":"#000"},"encoding":{"text":{"field":"t"}}},
{"data":{"values":[{"x":23.33,"y":40.37,"t":"E"}]},"mark":{"type":"text","align":"left","baseline":"middle","fontSize":18,"color":"#ef4136"},"encoding":{"text":{"field":"t"}}},
{"data":{"values":[{"x":24.5,"y":39.7,"t":"F"}]},"mark":{"type":"text","align":"left","baseline":"middle","fontSize":12,"color":"#ef4136"},"encoding":{"text":{"field":"t"}}},
{"data":{"values":[{"x":14.4,"y":43.03,"t":"0.12 eV"}]},"mark":{"type":"text","align":"center","baseline":"middle","fontSize":18,"color":"#1b9bd8"},"encoding":{"text":{"field":"t"}}},
{"data":{"values":[{"x":29.0,"y":46.37,"t":"GaPOₓ"},{"x":29.0,"y":44.7,"t":"GaOₓ"},{"x":29.0,"y":43.03,"t":"InPOₓ"}]},"mark":{"type":"text","align":"center","baseline":"middle","fontSize":14,"color":"#000"},"encoding":{"text":{"field":"t"}}},
{"data":{"values":[{"x":26.08,"y":44.4,"t":"("},{"x":31.8,"y":44.4,"t":")"}]},"mark":{"type":"text","align":"center","baseline":"middle","fontSize":22,"color":"#000"},"encoding":{"text":{"field":"t"}}},
{"data":{"values":[{"x":9.0,"y":57.03,"t":"X=3.9 eV"},{"x":19.33,"y":57.45,"t":"Φ = 4.4 eV"},{"x":22.33,"y":30.45,"t":"3.53 eV"},{"x":17.0,"y":25.37,"t":"ΔE=2 eV"},{"x":20.67,"y":14.03,"t":"1-5 Å"}]},"mark":{"type":"text","align":"center","baseline":"middle","fontSize":18,"angle":270,"color":"#000"},"encoding":{"text":{"field":"t"}}}
]}
]
}
